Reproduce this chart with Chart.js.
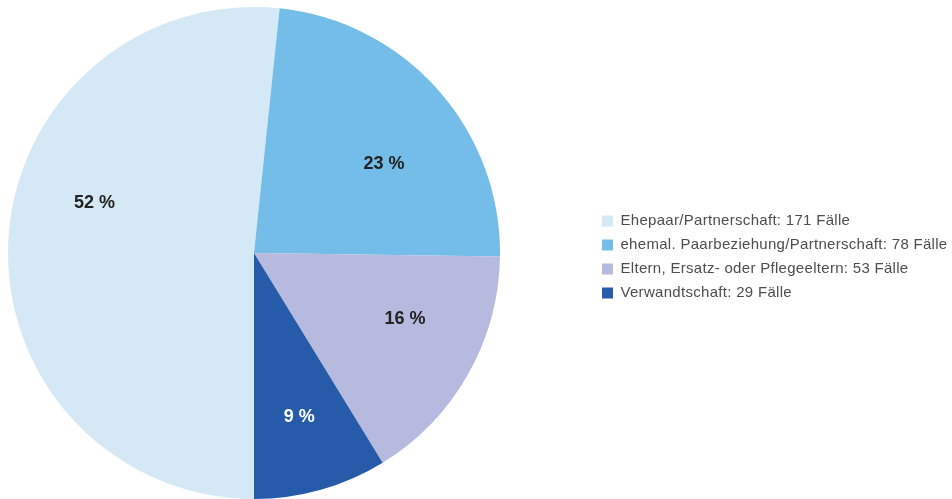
<!DOCTYPE html>
<html lang="de">
<head>
<meta charset="utf-8">
<script src="https://cdn.jsdelivr.net/npm/chart.js@4.4.1/dist/chart.umd.min.js"></script>
<style>
    html, body { margin: 0; padding: 0; background: #fff; }
    #wrap { width: 952px; height: 499px; position: relative; }
</style>
</head>
<body>
<div id="wrap"><canvas id="pieChart"></canvas></div>
<script>
const categories = ['Ehepaar/Partnerschaft', 'ehemal. Paarbeziehung/Partnerschaft', 'Eltern, Ersatz- oder Pflegeeltern', 'Verwandtschaft'];
const cases = [171, 78, 53, 29];
const shares = [52, 23, 16, 9];
const sliceColors = ['#d4e8f6', '#74bde8', '#b6badf', '#255ba8'];
const shareColors = ['#222222', '#222222', '#222222', '#ffffff'];

const legendLabels = categories.map((c, i) => c + ': ' + cases[i] + ' Fälle');

// pie sits left of the legend with a wide gap, so set the area by hand
const pieArea = {
    id: 'pieArea',
    afterLayout(chart) {
        chart.chartArea = { left: 8, top: 7, right: 500, bottom: 499, width: 492, height: 492 };
        chart.legend.left -= 8; // legend clips to its box, keep right edge
    },
    beforeDraw(chart) {
        // legend font in the original runs a bit wider than Arial
        chart.ctx.letterSpacing = '0.3px';
    }
};

// percent labels inside the slices
const sliceLabels = {
    id: 'sliceLabels',
    afterDatasetsDraw(chart, args, opts) {
        const ctx = chart.ctx;
        const meta = chart.getDatasetMeta(0);
        ctx.save();
        ctx.letterSpacing = '0px';
        ctx.font = opts.font;
        ctx.textAlign = 'center';
        ctx.textBaseline = 'middle';
        meta.data.forEach((arc, i) => {
            const p = arc.getProps(['x', 'y', 'startAngle', 'endAngle', 'outerRadius'], true);
            const mid = (p.startAngle + p.endAngle) / 2 + opts.turn[i] * Math.PI / 180;
            const r = p.outerRadius * opts.reach[i];
            ctx.fillStyle = shareColors[i];
            ctx.fillText(shares[i] + ' %', p.x + Math.cos(mid) * r, p.y + Math.sin(mid) * r);
        });
        ctx.restore();
    }
};

new Chart(document.getElementById('pieChart').getContext('2d'), {
    type: 'pie',
    data: {
        labels: legendLabels,
        datasets: [{
            data: cases,
            backgroundColor: sliceColors,
            borderWidth: 0
        }]
    },
    options: {
        responsive: true,
        maintainAspectRatio: false,
        animation: false,
        rotation: 180,
        layout: { padding: { top: 15 } },
        plugins: {
            tooltip: { enabled: false },
            legend: {
                position: 'right',
                labels: {
                    boxWidth: 11,
                    boxHeight: 11,
                    padding: 9,
                    color: '#4d4d4d',
                    font: { family: '"Liberation Sans", Arial, sans-serif', size: 15 }
                }
            },
            sliceLabels: {
                font: 'bold 18px "Liberation Sans", Arial, sans-serif',
                turn: [14.5, 7.3, -6.1, 0.3],
                reach: [0.68, 0.64, 0.67, 0.69]
            }
        }
    },
    plugins: [pieArea, sliceLabels]
});
</script>
</body>
</html>
